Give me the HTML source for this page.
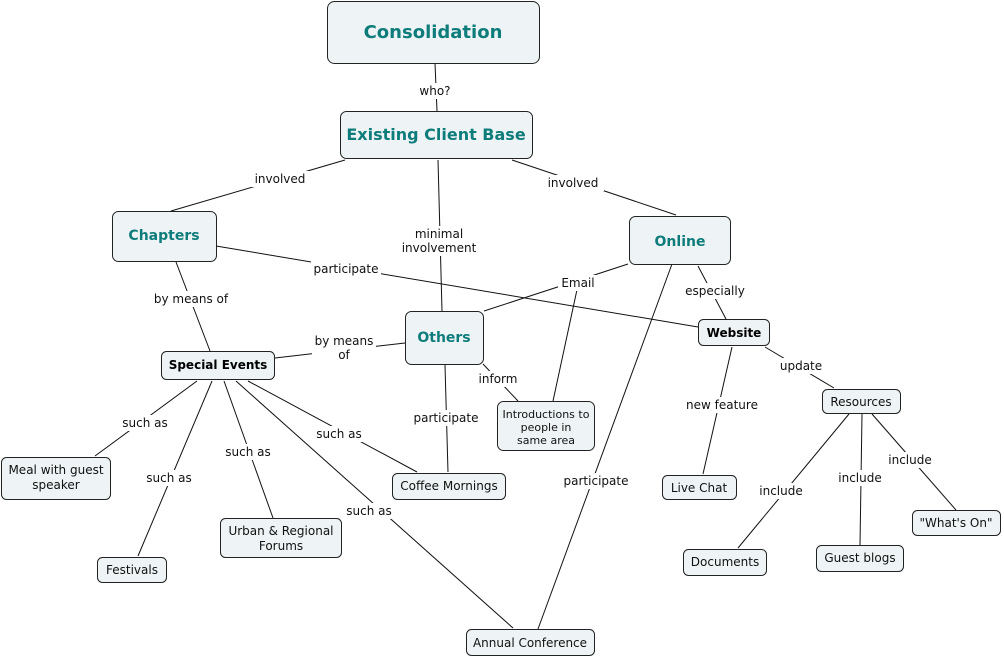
<!DOCTYPE html>
<html><head><meta charset="utf-8"><style>
html,body{margin:0;padding:0;background:#fff;width:1004px;height:658px;overflow:hidden}
svg{display:block;font-family:"DejaVu Sans","Liberation Sans",sans-serif}
.n{fill:#eef4f5;stroke:#222;stroke-width:1}
.l{stroke:#111;stroke-width:1;fill:none}
.t{font-size:12px;fill:#111;text-anchor:middle}
.lb{font-size:12px;fill:#111;text-anchor:middle}
.b{font-weight:bold;fill:#0e7c7b;text-anchor:middle}
.k{font-weight:bold;font-size:12px;fill:#000;text-anchor:middle}
.s{font-size:11px;fill:#111;text-anchor:middle}
</style></head><body>
<svg width="1004" height="658" viewBox="0 0 1004 658">
<g class="l">
<line x1="435" y1="63" x2="437" y2="111"/>
<line x1="345" y1="160" x2="171" y2="211"/>
<line x1="512" y1="160" x2="676" y2="215"/>
<line x1="438" y1="160" x2="442" y2="311"/>
<line x1="216" y1="246" x2="698" y2="327"/>
<line x1="176" y1="262" x2="210" y2="351"/>
<line x1="405" y1="343" x2="275" y2="358"/>
<line x1="628" y1="264" x2="484" y2="311"/>
<line x1="578" y1="285" x2="553" y2="401"/>
<line x1="483" y1="364" x2="518" y2="401"/>
<line x1="445" y1="365" x2="448" y2="472"/>
<line x1="672" y1="264" x2="538" y2="629"/>
<line x1="698" y1="266" x2="726" y2="319"/>
<line x1="732" y1="347" x2="703" y2="474"/>
<line x1="765" y1="347" x2="834" y2="388"/>
<line x1="849" y1="414" x2="738" y2="548"/>
<line x1="862" y1="414" x2="860" y2="545"/>
<line x1="872" y1="414" x2="956" y2="510"/>
<line x1="197" y1="381" x2="95" y2="456"/>
<line x1="212" y1="381" x2="138" y2="556"/>
<line x1="224" y1="381" x2="273" y2="518"/>
<line x1="248" y1="381" x2="417" y2="472"/>
<line x1="236" y1="381" x2="513" y2="628"/>
</g>
<g fill="#fff">
<rect x="418" y="83" width="36" height="16"/>
<rect x="250" y="171" width="60" height="16"/>
<rect x="544" y="175" width="60" height="16"/>
<rect x="398" y="226" width="82" height="30"/>
<rect x="311" y="261" width="70" height="16"/>
<rect x="150" y="291" width="82" height="16"/>
<rect x="312" y="333" width="64" height="30"/>
<rect x="558" y="275" width="40" height="16"/>
<rect x="475" y="371" width="46" height="16"/>
<rect x="412" y="410" width="70" height="16"/>
<rect x="561" y="473" width="70" height="16"/>
<rect x="683" y="283" width="64" height="16"/>
<rect x="684" y="397" width="78" height="16"/>
<rect x="778" y="358" width="46" height="16"/>
<rect x="757" y="483" width="48" height="16"/>
<rect x="836" y="470" width="48" height="16"/>
<rect x="886" y="452" width="48" height="16"/>
<rect x="119" y="415" width="52" height="16"/>
<rect x="143" y="470" width="52" height="16"/>
<rect x="222" y="444" width="52" height="16"/>
<rect x="313" y="426" width="52" height="16"/>
<rect x="343" y="503" width="52" height="16"/>
</g>
<g class="lb">
<text x="435" y="95">who?</text>
<text x="280" y="183">involved</text>
<text x="573" y="187">involved</text>
<text x="439" y="238">minimal</text>
<text x="439" y="252">involvement</text>
<text x="346" y="273">participate</text>
<text x="191" y="303">by means of</text>
<text x="344" y="345">by means</text>
<text x="344" y="359">of</text>
<text x="578" y="287">Email</text>
<text x="498" y="383">inform</text>
<text x="446" y="422">participate</text>
<text x="596" y="485">participate</text>
<text x="715" y="295">especially</text>
<text x="722" y="409">new feature</text>
<text x="801" y="370">update</text>
<text x="781" y="495">include</text>
<text x="860" y="482">include</text>
<text x="910" y="464">include</text>
<text x="145" y="427">such as</text>
<text x="169" y="482">such as</text>
<text x="248" y="456">such as</text>
<text x="339" y="438">such as</text>
<text x="369" y="515">such as</text>
</g>
<rect class="n" x="327.5" y="1.5" width="212" height="62" rx="7"/>
<text class="b" x="433" y="38" font-size="18">Consolidation</text>
<rect class="n" x="340.5" y="111.5" width="192" height="47" rx="6"/>
<text class="b" x="436" y="140" font-size="16">Existing Client Base</text>
<rect class="n" x="112.5" y="211.5" width="104" height="50" rx="6"/>
<text class="b" x="164" y="240" font-size="14">Chapters</text>
<rect class="n" x="629.5" y="216.5" width="101" height="48" rx="6"/>
<text class="b" x="680" y="246" font-size="14">Online</text>
<rect class="n" x="405.5" y="311.5" width="78" height="53" rx="6"/>
<text class="b" x="444" y="342" font-size="14">Others</text>
<rect class="n" x="161.5" y="351.5" width="113" height="28" rx="5"/>
<text class="k" x="218" y="369">Special Events</text>
<rect class="n" x="698.5" y="319.5" width="71" height="26" rx="5"/>
<text class="k" x="734" y="337">Website</text>
<rect class="n" x="822.5" y="389.5" width="78" height="24" rx="5"/>
<text class="t" x="861" y="406">Resources</text>
<rect class="n" x="497.5" y="401.5" width="97" height="49" rx="6"/>
<text class="s" x="546" y="418">Introductions to</text>
<text class="s" x="546" y="431">people in</text>
<text class="s" x="546" y="444">same area</text>
<rect class="n" x="1.5" y="457.5" width="109" height="42" rx="5"/>
<text class="t" x="56" y="474">Meal with guest</text>
<text class="t" x="56" y="489">speaker</text>
<rect class="n" x="392.5" y="473.5" width="113" height="26" rx="5"/>
<text class="t" x="449" y="490">Coffee Mornings</text>
<rect class="n" x="662.5" y="475.5" width="74" height="24" rx="5"/>
<text class="t" x="699" y="492">Live Chat</text>
<rect class="n" x="912.5" y="510.5" width="88" height="25" rx="5"/>
<text class="t" x="956" y="527">"What's On"</text>
<rect class="n" x="220.5" y="518.5" width="121" height="39" rx="5"/>
<text class="t" x="281" y="535">Urban &amp; Regional</text>
<text class="t" x="281" y="550">Forums</text>
<rect class="n" x="97.5" y="557.5" width="69" height="25" rx="5"/>
<text class="t" x="132" y="574">Festivals</text>
<rect class="n" x="683.5" y="549.5" width="83" height="26" rx="5"/>
<text class="t" x="725" y="566">Documents</text>
<rect class="n" x="816.5" y="545.5" width="87" height="26" rx="5"/>
<text class="t" x="860" y="562">Guest blogs</text>
<rect class="n" x="466.5" y="629.5" width="128" height="26" rx="5"/>
<text class="t" x="530" y="647">Annual Conference</text>
</svg>
</body></html>
